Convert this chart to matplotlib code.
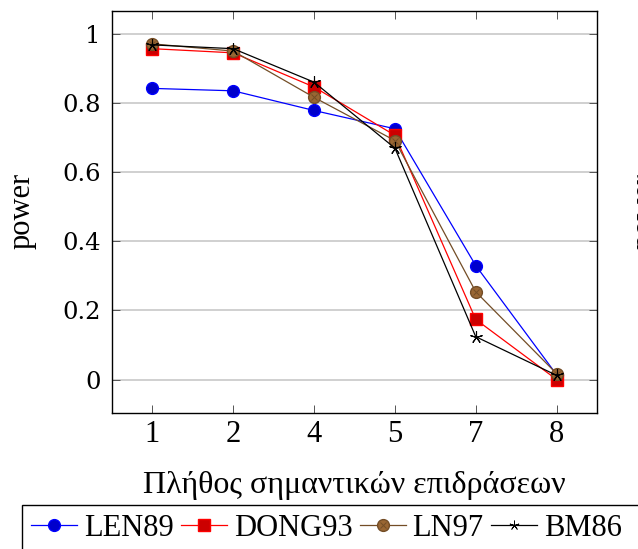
import matplotlib
matplotlib.use("Agg")
import numpy as np
import matplotlib.pyplot as plt
from matplotlib.lines import Line2D
from matplotlib.patches import Rectangle

plt.rcParams['font.family'] = ['Liberation Serif', 'DejaVu Serif']

# data
categories = ["1", "2", "4", "5", "7", "8"]
len89 = [0.843, 0.836, 0.779, 0.726, 0.330, 0.014]
dong93 = [0.958, 0.946, 0.847, 0.707, 0.174, 0.0]
ln97 = [0.972, 0.951, 0.817, 0.692, 0.254, 0.017]
bm86 = [0.969, 0.958, 0.861, 0.670, 0.124, 0.012]
yticks = [0, 0.2, 0.4, 0.6, 0.8, 1]
ytick_labels = ["0", "0.2", "0.4", "0.6", "0.8", "1"]

fs = 22        # text font (labels, legend, x ticks)
fs_num = 17.5  # number font of the y ticks
W, H = 638, 549

fig = plt.figure(figsize=(W/100, H/100), dpi=100)
ax = fig.add_axes([112/W, 1-413/H, 485/W, 402.3/H])

x = np.arange(len(categories))
brown_line = (0.45, 0.30, 0.15)
brown_fill = (0.6, 0.4, 0.2)

ax.plot(x, len89, color="blue", lw=0.9, marker="o", ms=8.5,
        mfc=(0, 0, 0.8), mec="blue", zorder=3)
ax.plot(x, dong93, color="red", lw=0.9, marker="s", ms=8,
        mfc=(0.8, 0, 0), mec="red", zorder=3)
ax.plot(x, ln97, color=brown_line, lw=0.9, marker="o", ms=8.5,
        mfc=brown_fill, mec=brown_line, zorder=3)
ax.plot(x, ln97, ls="none", marker="x", ms=5, mec=brown_line, mew=0.7, zorder=3)
ax.plot(x, bm86, color="black", lw=0.9, marker=(5, 2, 0), ms=9,
        mec="black", mew=0.8, zorder=4)

ax.set_xlim(-0.5, 5.5)
ax.set_ylim(-0.097, 1.068)
ax.set_xticks(x)
ax.set_xticklabels(categories, fontsize=fs)
ax.set_yticks(yticks)
ax.set_yticklabels(ytick_labels, fontsize=fs_num, family="DejaVu Serif")
ax.grid(axis="y", color="#c8c8c8", lw=1.2)
ax.set_axisbelow(True)
ax.tick_params(direction="in", top=True, right=True, length=6, width=0.7,
               color="#555555")
ax.tick_params(axis="x", pad=5)
ax.tick_params(axis="y", pad=8)
for s in ax.spines.values():
    s.set_linewidth(1.0)

fig.text(354/W, 1-493/H, "Πλήθος σημαντικών επιδράσεων", fontsize=23,
         ha="center", va="baseline")
fig.text(22/W, 1-211/H, "power", fontsize=fs, rotation=90,
         ha="center", va="center")

# ylabel of the neighbouring chart, cut off by the image edge
fig.text(631/W, 1-211/H, "power", fontsize=fs, rotation=90,
         ha="left", va="center")

handles = [
    Line2D([], [], color="blue", lw=0.9, marker="o", ms=8.5, mfc=(0, 0, 0.8), mec="blue"),
    Line2D([], [], color="red", lw=0.9, marker="s", ms=8, mfc=(0.8, 0, 0), mec="red"),
    (Line2D([], [], color=brown_line, lw=0.9, marker="o", ms=8.5, mfc=brown_fill, mec=brown_line),
     Line2D([], [], ls="none", marker="x", ms=5, mec=brown_line, mew=0.7)),
    Line2D([], [], color="black", lw=0.9, marker=(5, 2, 0), ms=7, mec="black", mew=0.6),
]
leg = fig.legend(handles, ["LEN89", "DONG93", "LN97", "BM86"], ncol=4,
                 loc="upper left", bbox_to_anchor=(22/W, 1-505/H),
                 fontsize=fs, frameon=False,
                 handlelength=1.5, handletextpad=0.22, columnspacing=0.25,
                 borderpad=0.3, borderaxespad=0)
# legend box runs past the right and bottom edges of the picture
fig.patches.append(Rectangle((22/W, -0.05), 1.0, 1-505/H + 0.05,
                             transform=fig.transFigure, fill=False,
                             edgecolor="black", lw=1.0))

fig.savefig("out.png", dpi=100)
